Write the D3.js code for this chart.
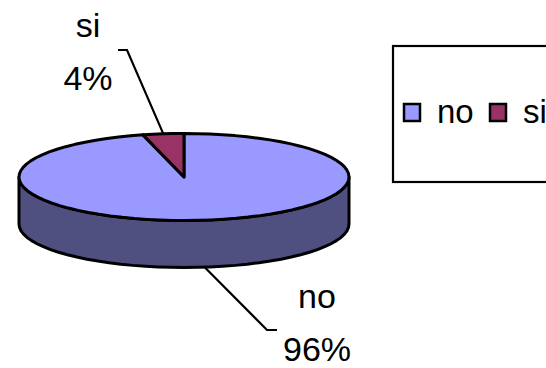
<!DOCTYPE html>
<html>
<head>
<meta charset="utf-8">
<script src="https://cdn.jsdelivr.net/npm/d3@7"></script>
<style>
  html, body { margin: 0; padding: 0; background: #fff; }
  svg { display: block; }
  text { font-family: "Liberation Sans", Arial, sans-serif; fill: #000; }
</style>
</head>
<body>
<svg id="chart" width="546" height="368"></svg>
<script>
// Survey answers
const categories = ["no", "si"];
const values = [96, 4];
const topColors = ["#9999FF", "#993366"];
const sideColors = ["#4F4F80", "#662244"];

const svg = d3.select("#chart");

// 3D pie geometry (tilted ellipse with depth)
const cx = 184, cy = 177, rx = 165, ry = 43.5, depth = 47;
const total = d3.sum(values);
const pct = d3.format(".0%");

const pie = d3.pie().sort(null).value(d => d)(values);

// angle 0 = 12 o'clock, increasing clockwise
const pt = (a, dz = 0) => [cx + rx * Math.sin(a), cy - ry * Math.cos(a) + dz];

function arcPoints(a0, a1, dz = 0) {
  const n = Math.max(2, Math.ceil(Math.abs(a1 - a0) / (Math.PI / 40)));
  return d3.range(n + 1).map(i => pt(a0 + (a1 - a0) * i / n, dz));
}

const line = d3.line();
const g = svg.append("g");

// Front wall: visible part of each slice between 90° and 270°
pie.forEach((s, i) => {
  const a0 = Math.max(s.startAngle, Math.PI / 2);
  const a1 = Math.min(s.endAngle, 3 * Math.PI / 2);
  if (a1 <= a0) return;
  const top = arcPoints(a0, a1);
  const bottom = arcPoints(a1, a0, depth);
  g.append("path")
    .attr("d", line(top.concat(bottom)) + "Z")
    .attr("fill", sideColors[i])
    .attr("stroke", "#000")
    .attr("stroke-width", 3)
    .attr("stroke-linejoin", "round");
});

// Top faces
pie.forEach((s, i) => {
  const pts = [[cx, cy]].concat(arcPoints(s.startAngle, s.endAngle));
  g.append("path")
    .attr("d", line(pts) + "Z")
    .attr("fill", topColors[i])
    .attr("stroke", "#000")
    .attr("stroke-width", 3)
    .attr("stroke-linejoin", "round");
});

// Data labels with leader lines
const labelFont = 34;
const labelSpecs = [
  // no: from the bottom of the wall, down-right
  { anchor: (s) => pt((s.startAngle + s.endAngle) / 2, depth), elbow: [267, 330], tick: [277, 330], tx: 317, ty: 308 },
  // si: from the top rim, up-left
  { anchor: (s) => pt((s.startAngle + s.endAngle) / 2), elbow: [127, 50], tick: [118, 50], tx: 88, ty: 37 }
];

pie.forEach((s, i) => {
  const spec = labelSpecs[i];
  const a = spec.anchor(s);
  svg.append("path")
    .attr("d", line([a, spec.elbow, spec.tick]))
    .attr("fill", "none")
    .attr("stroke", "#000")
    .attr("stroke-width", 2.2);
  const t = svg.append("text")
    .attr("text-anchor", "middle")
    .attr("font-size", labelFont);
  t.append("tspan").attr("x", spec.tx).attr("y", spec.ty).text(categories[i]);
  t.append("tspan").attr("x", spec.tx).attr("y", spec.ty + 53).text(pct(values[i] / total));
});

// Legend
const legend = svg.append("g");
legend.append("rect")
  .attr("x", 393).attr("y", 46)
  .attr("width", 200).attr("height", 136)
  .attr("fill", "#fff")
  .attr("stroke", "#000")
  .attr("stroke-width", 2.2);

const legendX = [404, 490];
categories.forEach((c, i) => {
  legend.append("rect")
    .attr("x", legendX[i]).attr("y", 104)
    .attr("width", 16).attr("height", 17)
    .attr("fill", topColors[i])
    .attr("stroke", "#000")
    .attr("stroke-width", 2.5);
  legend.append("text")
    .attr("x", legendX[i] + 33).attr("y", 123)
    .attr("font-size", 33)
    .text(c);
});
</script>
</body>
</html>
